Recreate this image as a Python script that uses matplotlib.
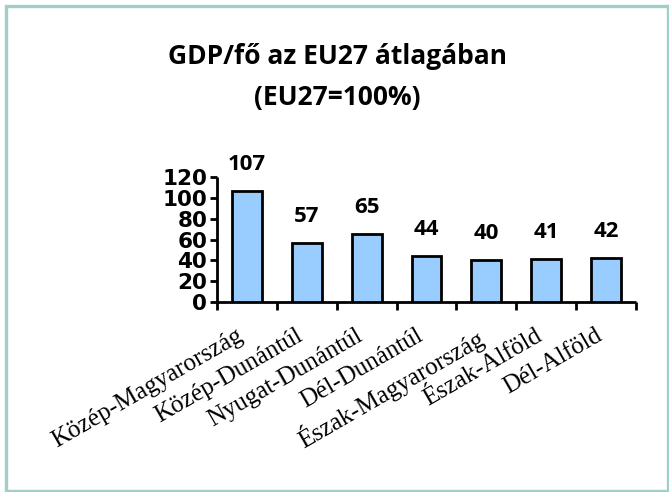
import matplotlib
matplotlib.use("Agg")
import matplotlib.pyplot as plt
from matplotlib.patches import Rectangle

categories = ["Közép-Magyarország", "Közép-Dunántúl", "Nyugat-Dunántúl", "Dél-Dunántúl",
              "Észak-Magyarország", "Észak-Alföld", "Dél-Alföld"]
values = [107, 57, 65, 44, 40, 41, 42]
yticks = [0, 20, 40, 60, 80, 100, 120]
title_line1 = "GDP/fő az EU27 átlagában"
title_line2 = "(EU27=100%)"

W, H = 669, 492
fig = plt.figure(figsize=(W / 100, H / 100), dpi=100)

# axes placement (pixels)
left, right, bottom, top = 217, 636, 301.7, 177.3
ax = fig.add_axes([left / W, 1 - bottom / H, (right - left) / W, (bottom - top) / H])

x = list(range(len(categories)))
ax.bar(x, values, width=0.5, color="#99ccff", edgecolor="black", linewidth=2, zorder=3)
ax.set_xlim(-0.5, len(categories) - 0.5)
ax.set_ylim(0, 120)

for s in ["top", "right"]:
    ax.spines[s].set_visible(False)
for s in ["left", "bottom"]:
    ax.spines[s].set_linewidth(2)
    ax.spines[s].set_color("black")
    ax.spines[s].set_capstyle("butt")

ax.set_yticks(yticks)
ax.set_yticklabels([str(t) for t in yticks], fontfamily="DejaVu Sans", fontweight="bold", fontsize=15.5)
ax.tick_params(axis="y", direction="out", length=5, width=2, pad=2)

ax.set_xticks([i - 0.5 for i in range(len(categories) + 1)])
ax.set_xticklabels([])
ax.tick_params(axis="x", direction="out", length=6, width=2)

for i, cat in enumerate(categories):
    ax.annotate(cat, xy=(i, 0), xycoords=("data", "axes fraction"),
                xytext=(-11, -23), textcoords="offset pixels",
                rotation=30, rotation_mode="anchor", ha="right", va="top",
                fontfamily="Liberation Serif", fontsize=18, annotation_clip=False)

for i, v in enumerate(values):
    ax.annotate(str(v), xy=(i, v), xytext=(0, 21), textcoords="offset pixels",
                ha="center", va="baseline", fontfamily="Open Sans", fontweight="bold",
                fontsize=16, annotation_clip=False)

fig.text(337 / W, 1 - 64.3 / H, title_line1, ha="center", va="baseline",
         fontfamily="Open Sans", fontweight="bold", fontsize=19)
fig.text(337 / W, 1 - 105 / H, title_line2, ha="center", va="baseline",
         fontfamily="Open Sans", fontweight="bold", fontsize=19)

fig.patches.append(Rectangle((5.6 / W, 1.4 / H), (668.2 - 5.6) / W, (486.4 - 1.4) / H,
                             transform=fig.transFigure, fill=False,
                             edgecolor="#9fcfc7", linewidth=2.4))

fig.savefig("out.png", dpi=100)
